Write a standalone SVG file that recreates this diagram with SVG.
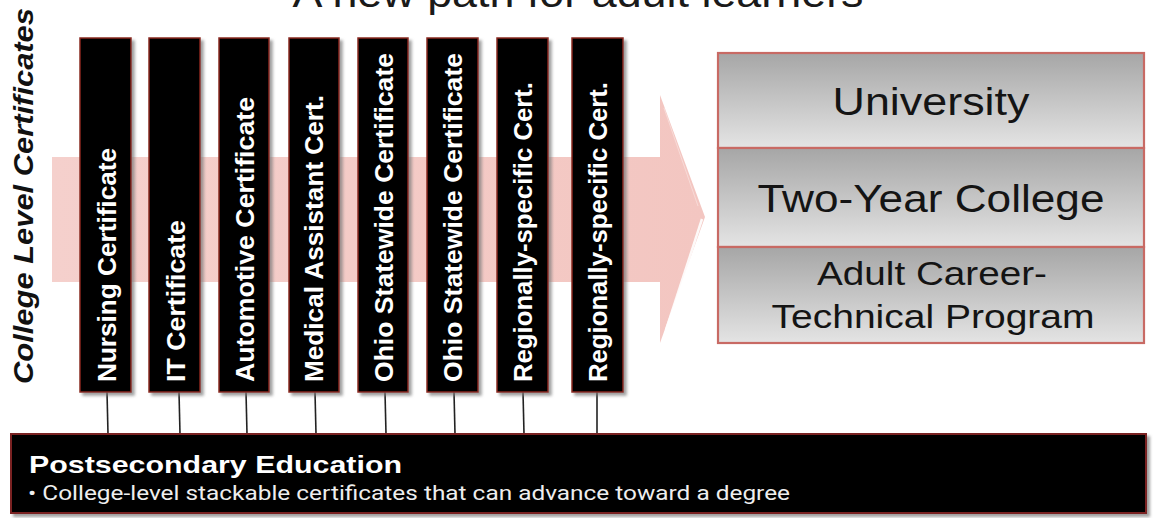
<svg xmlns="http://www.w3.org/2000/svg" width="1155" height="518" viewBox="0 0 1155 518">
<style>
.bar{fill:#000;stroke:#8a2a22;stroke-width:1.5}
.bt{font-family:"Liberation Sans",Arial,sans-serif;font-weight:bold;font-size:25px;fill:#fff}
.conn{stroke:#222;stroke-width:1.6;fill:none}
.lvl{stroke:#c86a64;stroke-width:2.2}
.rt{font-family:"Liberation Sans",Arial,sans-serif;fill:#141414;text-anchor:middle}
</style>
<defs>
<filter id="sh" x="-20%" y="-5%" width="150%" height="115%">
<feDropShadow dx="3" dy="3" stdDeviation="1.5" flood-color="#777" flood-opacity="0.7"/>
</filter>
<linearGradient id="gr" x1="0" y1="0" x2="0" y2="1">
<stop offset="0" stop-color="#a6a6a6"/>
<stop offset="1" stop-color="#e4e4e4"/>
</linearGradient>
<linearGradient id="ar" x1="0" y1="0" x2="1" y2="0">
<stop offset="0" stop-color="#f5d0cc"/>
<stop offset="1" stop-color="#f3c6c1"/>
</linearGradient>
</defs>
<rect width="1155" height="518" fill="#fff"/>

<text x="578" y="7" font-family="Liberation Sans,Arial,sans-serif" font-size="40" fill="#1a1a1a" text-anchor="middle" textLength="571" lengthAdjust="spacingAndGlyphs">A new path for adult learners</text>

<g id="arrow">
<path d="M52 157 H660 V95 L705 217 L660 343 V282 H52 Z" fill="url(#ar)"/>
<path d="M702 219 L666 330" stroke="#fff" stroke-width="2.5" opacity="0.9"/>
<path d="M664 108 L698 206" stroke="#fff" stroke-width="1" opacity="0.35"/>
</g>

<text transform="translate(33,384) rotate(-90)" font-family="Liberation Sans,Arial,sans-serif" font-weight="bold" font-style="italic" font-size="27" fill="#111" textLength="376" lengthAdjust="spacingAndGlyphs">College Level Certificates</text>

<g id="connectors">
<line class="conn" x1="107" y1="392" x2="108" y2="434"/>
<line class="conn" x1="179" y1="392" x2="180" y2="434"/>
<line class="conn" x1="246" y1="392" x2="247" y2="434"/>
<line class="conn" x1="315" y1="392" x2="316" y2="434"/>
<line class="conn" x1="385" y1="392" x2="386" y2="434"/>
<line class="conn" x1="454" y1="392" x2="455" y2="434"/>
<line class="conn" x1="523" y1="392" x2="524" y2="434"/>
<line class="conn" x1="597" y1="392" x2="597" y2="434"/>
</g>

<g id="cert1"><rect class="bar" x="80" y="38" width="51" height="354" filter="url(#sh)"/><text class="bt" transform="translate(116,382) rotate(-90)" textLength="234" lengthAdjust="spacingAndGlyphs">Nursing Certificate</text></g>
<g id="cert2"><rect class="bar" x="149" y="38" width="51" height="354" filter="url(#sh)"/><text class="bt" transform="translate(185,382) rotate(-90)" textLength="162" lengthAdjust="spacingAndGlyphs">IT Certificate</text></g>
<g id="cert3"><rect class="bar" x="219" y="38" width="50" height="354" filter="url(#sh)"/><text class="bt" transform="translate(254,382) rotate(-90)" textLength="285" lengthAdjust="spacingAndGlyphs">Automotive Certificate</text></g>
<g id="cert4"><rect class="bar" x="289" y="38" width="50" height="354" filter="url(#sh)"/><text class="bt" transform="translate(323,382) rotate(-90)" textLength="287" lengthAdjust="spacingAndGlyphs">Medical Assistant Cert.</text></g>
<g id="cert5"><rect class="bar" x="358" y="38" width="50" height="354" filter="url(#sh)"/><text class="bt" transform="translate(393,382) rotate(-90)" textLength="329" lengthAdjust="spacingAndGlyphs">Ohio Statewide Certificate</text></g>
<g id="cert6"><rect class="bar" x="427" y="38" width="51" height="354" filter="url(#sh)"/><text class="bt" transform="translate(462,382) rotate(-90)" textLength="329" lengthAdjust="spacingAndGlyphs">Ohio Statewide Certificate</text></g>
<g id="cert7"><rect class="bar" x="497" y="38" width="51" height="354" filter="url(#sh)"/><text class="bt" transform="translate(532,382) rotate(-90)" textLength="300" lengthAdjust="spacingAndGlyphs">Regionally-specific Cert.</text></g>
<g id="cert8"><rect class="bar" x="572" y="38" width="51" height="354" filter="url(#sh)"/><text class="bt" transform="translate(607,382) rotate(-90)" textLength="300" lengthAdjust="spacingAndGlyphs">Regionally-specific Cert.</text></g>

<g id="levels">
<g id="university"><rect x="718" y="53" width="426" height="95" fill="url(#gr)" class="lvl"/><text class="rt" x="931" y="115" font-size="39" textLength="197" lengthAdjust="spacingAndGlyphs">University</text></g>
<g id="two-year"><rect x="718" y="148" width="426" height="99" fill="url(#gr)" class="lvl"/><text class="rt" x="931" y="212" font-size="39" textLength="347" lengthAdjust="spacingAndGlyphs">Two-Year College</text></g>
<g id="adult-ct"><rect x="718" y="247" width="426" height="96" fill="url(#gr)" class="lvl"/><text class="rt" x="932" y="285" font-size="34" textLength="230" lengthAdjust="spacingAndGlyphs">Adult Career-</text><text class="rt" x="933" y="328" font-size="34" textLength="323" lengthAdjust="spacingAndGlyphs">Technical Program</text></g>
</g>

<g id="postsecondary">
<rect x="11" y="434" width="1135" height="79" fill="#000" stroke="#7a2420" stroke-width="2" filter="url(#sh)"/>
<text x="29" y="473" font-family="Liberation Sans,Arial,sans-serif" font-weight="bold" font-size="24" fill="#fff" textLength="373" lengthAdjust="spacingAndGlyphs">Postsecondary Education</text>
<text x="28" y="500" font-family="Roboto,'Liberation Sans',sans-serif" font-size="21" fill="#eee" textLength="762" lengthAdjust="spacingAndGlyphs">• College-level stackable certificates that can advance toward a degree</text>
</g>
</svg>
